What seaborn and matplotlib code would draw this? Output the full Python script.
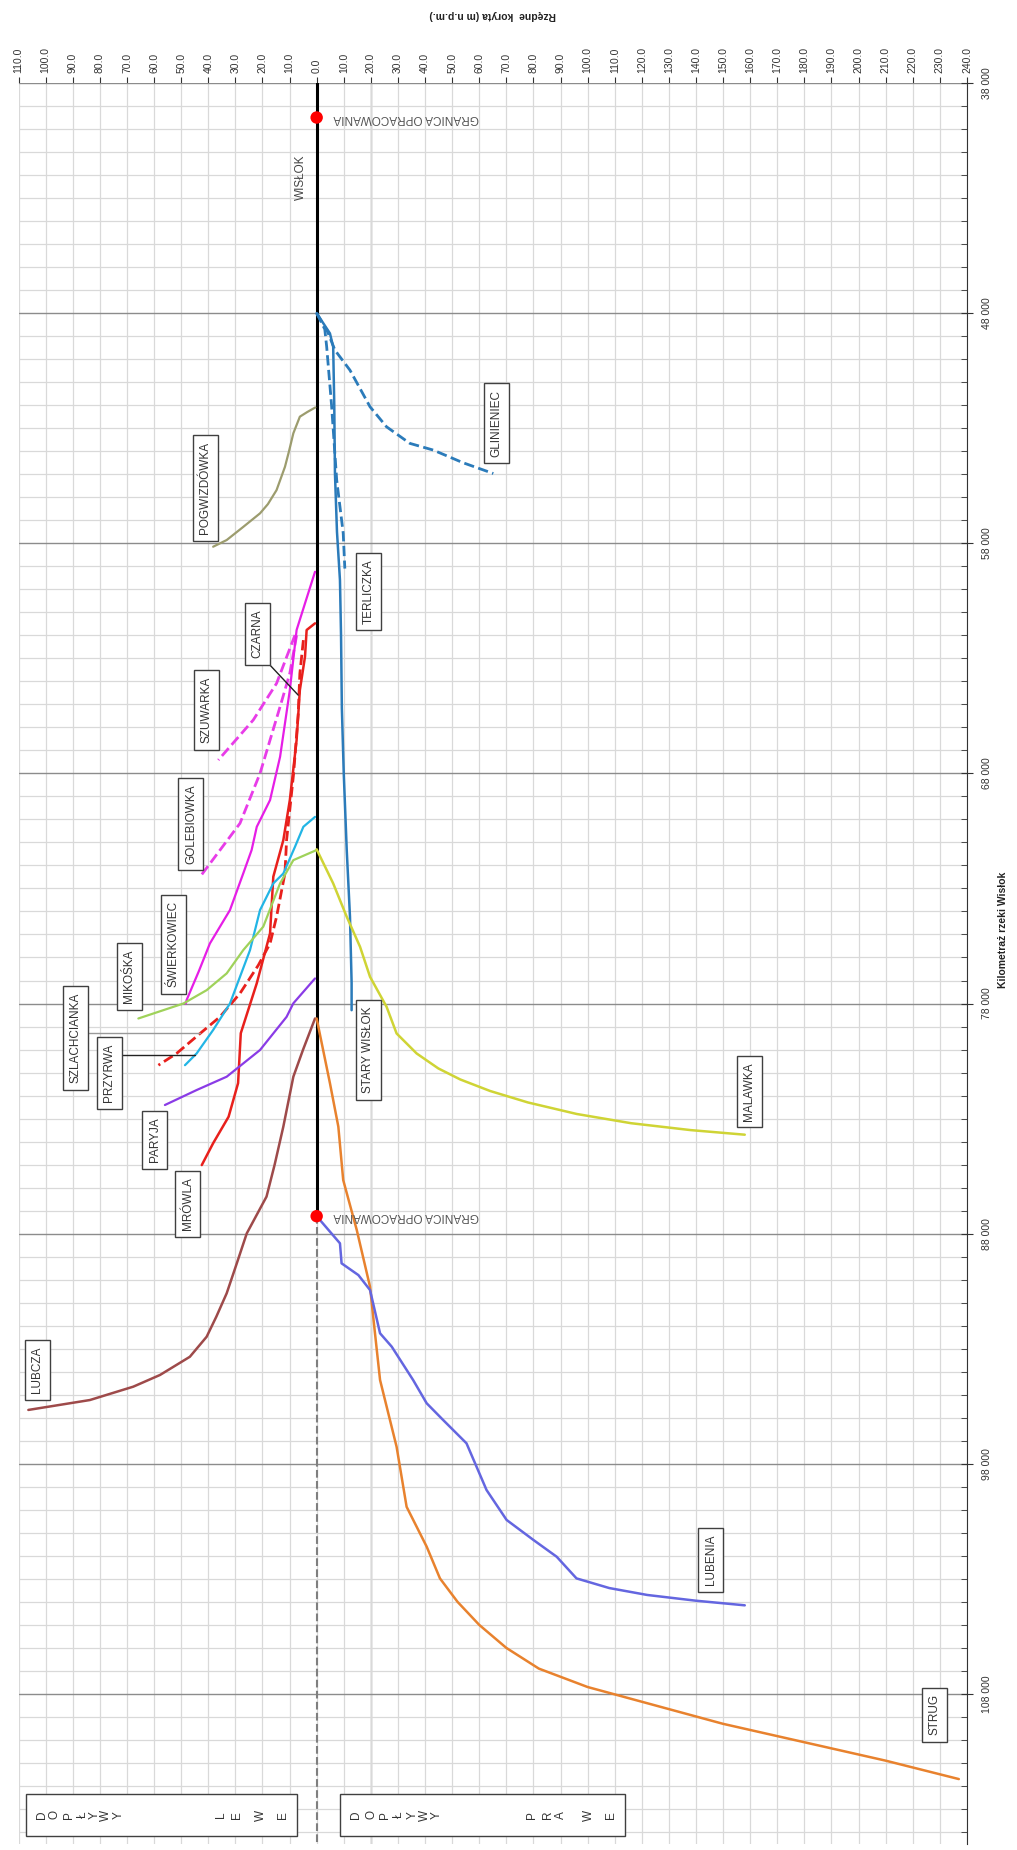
import matplotlib
matplotlib.use("Agg")
import matplotlib.pyplot as plt
import seaborn as sns
from matplotlib.patches import Rectangle
from matplotlib.ticker import FixedLocator, FuncFormatter, MultipleLocator

sns.set_style("white")
plt.rcParams['font.family'] = ['Liberation Sans', 'DejaVu Sans']

# ------------------------------------------------------
# Data: km of Wisłok (y) vs. channel level (x, left < 0)
# ------------------------------------------------------
wislok_km = [38000, 87240]
wislok_val = [0, 0]
wislok_dash_km = [87240, 114500]
wislok_dash_val = [0, 0]
granica_km = [39500, 87240]
granica_val = [0, 0]

stary_km = [48000, 48880, 49460, 52000, 54950, 57500, 59600, 62000, 65160, 68000, 71330, 74230, 77100, 78290]
stary_val = [0, 4.9, 6.1, 6.5, 6.75, 7.5, 8.6, 9.0, 9.3, 10.0, 11.1, 12.3, 12.9, 12.9]

terliczka_km = [48000, 48700, 49460, 52000, 55260, 57560, 59100]
terliczka_val = [0, 3.0, 3.7, 5.5, 7.4, 9.8, 10.4]

glinieniec_km = [48000, 48800, 49610, 50480, 52070, 52940, 53660, 53950, 54500, 54970]
glinieniec_val = [0, 4, 6.75, 12.3, 19.7, 25.8, 34.4, 43, 54, 65.2]

pogwizdowka_km = [52100, 52300, 52500, 53220, 54000, 54680, 55690, 56300, 56700, 57290, 57860, 58150]
pogwizdowka_val = [-0.5, -3.5, -6.2, -8.6, -10.2, -11.7, -14.8, -18.0, -20.9, -27.1, -33.2, -38.2]

swierkowiec_km = [59240, 60500, 61770, 64380, 67280, 69160, 70320, 71330, 72350, 73940, 75390, 76600, 77850, 78000]
swierkowiec_val = [-0.6, -4.0, -7.4, -9.9, -13.5, -17.2, -22.1, -24, -27.1, -32, -39.4, -43.5, -48, -48.3]

szuwarka_km = [61990, 64090, 65680, 67420]
szuwarka_val = [-8, -14.8, -23.4, -36.3]

golebiowka_km = [62000, 63650, 65100, 68000, 70170, 72490]
golebiowka_val = [-7.4, -9.9, -13.5, -20.9, -28.3, -43]

mrowla_km = [61480, 61770, 62930, 64380, 66550, 69160, 70900, 72490, 74950, 77120, 79290, 81460, 82920, 84070, 85020]
mrowla_val = [-0.6, -3.7, -4.3, -6.2, -7.4, -9.9, -12.3, -16, -17.2, -22.1, -28, -29, -32.5, -38.2, -42.4]

szlachcianka_km = [62210, 63660, 65400, 68000, 70900, 72340, 74230, 75390, 76330, 77560, 78580, 79300, 80170, 80680]
szlachcianka_val = [-4.9, -6.2, -6.8, -8.5, -11.1, -11.7, -14.8, -17.2, -21.5, -28.3, -35.7, -43, -51.7, -58.4]

przyrwa_km = [69890, 70320, 71190, 72350, 72780, 73940, 75680, 76840, 78000, 79150, 80170, 80680]
przyrwa_val = [-0.6, -4.9, -8, -12.3, -16, -20.9, -24.6, -28.3, -32, -38.2, -44.3, -48.6]

mikoska_km = [71330, 71770, 72780, 74660, 75680, 76690, 77420, 78000, 78650]
mikoska_val = [0, -8.6, -13.5, -19.7, -27.1, -33.2, -40.6, -49.2, -65.8]

paryja_km = [76910, 77990, 78580, 80020, 81180, 81760, 82410]
paryja_val = [-0.6, -8.6, -11.1, -20.9, -33.2, -44.3, -56]

lubcza_km = [78650, 80000, 81180, 83350, 85000, 86390, 87990, 89300, 90590, 91600, 92480, 93350, 94140, 94650, 95230, 95660]
lubcza_val = [-0.6, -5.0, -8.6, -12.3, -15.5, -18.5, -25.8, -29.5, -33.2, -37.0, -40.6, -46.8, -57.8, -67.7, -83.7, -106.4]

malawka_km = [71300, 72780, 74230, 75530, 76840, 78140, 79300, 80170, 80820, 81300, 81800, 82300, 82800, 83200, 83500, 83700]
malawka_val = [0, 6.1, 11.1, 16, 19.7, 25.8, 29.5, 36.9, 44.9, 53, 64, 78, 96, 116, 138, 158]

strug_km = [78650, 81460, 83350, 85670, 87840, 90310, 92300, 94360, 97260, 99870, 101600, 102980, 104000, 105000, 106000, 106900, 107700, 108500, 109300, 110100, 110900, 111700]
strug_val = [0, 4.9, 8, 9.8, 14.8, 19.7, 21.5, 23.4, 29.5, 33.2, 40.6, 45.5, 52, 60, 70, 82, 100, 125, 150, 180, 210, 237]

lubenia_km = [87240, 88420, 89290, 89800, 90450, 92330, 92910, 94360, 95370, 96100, 97110, 99140, 100440, 101310, 102040, 102980, 103400, 103700, 103950, 104150]
lubenia_val = [0, 8.6, 9.2, 15.4, 19.7, 23.4, 27.7, 35.6, 40.6, 46.7, 55.3, 62.7, 70.1, 80, 88.6, 95.9, 108, 122, 140, 158]

# label name, x, km
box_labels = [
    ("POGWIZDÓWKA", -41.2, 55600), ("TERLICZKA", 19.1, 60100), ("GLINIENIEC", 66.2, 52780),
    ("CZARNA", -21.8, 61950), ("SZUWARKA", -40.8, 65250), ("GOLEBIOWKA", -46.4, 70200),
    ("ŚWIERKOWIEC", -52.8, 75420), ("MIKOŚKA", -69.1, 76830), ("SZLACHCIANKA", -89, 79500),
    ("PRZYRWA", -76.5, 81020), ("PARYJA", -59.7, 83930), ("MRÓWLA", -47.5, 86710),
    ("LUBCZA", -103.2, 93930), ("STARY WISŁOK", 19.1, 80020), ("MALAWKA", 159.7, 81830),
    ("LUBENIA", 145.5, 102180), ("STRUG", 228, 108900),
]

# side boxes: letters and their x positions
lewe_letters = ["D", "O", "P", "Ł", "Y", "W", "Y", "L", "E", "W", "E"]
lewe_x = [-101.5, -96.6, -91.4, -86.2, -81.8, -77.8, -73.1, -35.3, -29.4, -20.5, -12.4]
prawe_letters = ["D", "O", "P", "Ł", "Y", "W", "Y", "P", "R", "A", "W", "E"]
prawe_x = [14.5, 20.4, 25.4, 30.4, 35.5, 40.0, 44.4, 79.4, 85.3, 90.3, 100.5, 108.6]

# ------------------------------------------------------
# Figure
# ------------------------------------------------------
fig = plt.figure(figsize=(10.17, 18.5), dpi=100)
ax = fig.add_axes([0.01829, 0.00351, 0.9325, 0.95163])

lines = [
    (wislok_val, wislok_km, "black", "-", 2.2),
    (wislok_dash_val, wislok_dash_km, "#7f7f7f", "--", 1.5),
    (glinieniec_val, glinieniec_km, "#2b7bba", "--", 2.0),
    (terliczka_val, terliczka_km, "#2b7bba", "--", 2.0),
    (stary_val, stary_km, "#2b7bba", "-", 1.8),
    (pogwizdowka_val, pogwizdowka_km, "#9c9c6e", "-", 1.6),
    (szuwarka_val, szuwarka_km, "#e83ce8", "--", 2.0),
    (golebiowka_val, golebiowka_km, "#e83ce8", "--", 2.0),
    (swierkowiec_val, swierkowiec_km, "#e61ee6", "-", 1.6),
    (mrowla_val, mrowla_km, "#e8201c", "-", 1.8),
    (szlachcianka_val, szlachcianka_km, "#e8201c", "--", 2.0),
    (przyrwa_val, przyrwa_km, "#22b5e5", "-", 1.6),
    (mikoska_val, mikoska_km, "#9fd25a", "-", 1.6),
    (paryja_val, paryja_km, "#8a3be6", "-", 1.6),
    (lubcza_val, lubcza_km, "#9e4a4a", "-", 1.8),
    (malawka_val, malawka_km, "#cfd435", "-", 1.8),
    (strug_val, strug_km, "#e8822e", "-", 1.8),
    (lubenia_val, lubenia_km, "#6466e0", "-", 1.8),
]
for xv, yv, col, ls, lw in lines:
    sns.lineplot(x=xv, y=yv, sort=False, estimator=None, color=col,
                 linestyle=ls, linewidth=lw, ax=ax)

sns.scatterplot(x=granica_val, y=granica_km, color="#ff0000", s=80,
                edgecolor="none", zorder=5, ax=ax)
for km in granica_km:
    ax.text(6, km, "GRANICA OPRACOWANIA", rotation=180, ha="left", va="center",
            fontsize=8.5, color="#555555")
ax.text(-5.8, 42090, "WISŁOK", rotation=90, ha="center", va="center",
        fontsize=8.5, color="#444444")

for name, xv, km in box_labels:
    ax.text(xv, km, name, rotation=90, ha="center", va="center", fontsize=8.5,
            color="#333333", zorder=6,
            bbox=dict(boxstyle="square,pad=0.55", fc="white", ec="#404040", lw=1))

# leader lines
ax.plot([-17.9, -6.8], [63210, 64600], color="#222222", lw=1)
ax.plot([-84.7, -43], [79290, 79290], color="#999999", lw=1)
ax.plot([-72.2, -44.9], [80240, 80240], color="#222222", lw=1)

# DOPŁYWY boxes
ax.add_patch(Rectangle((-107.3, 112350), 100, 1820, fc="white", ec="#404040", lw=1, zorder=6))
ax.add_patch(Rectangle((8.6, 112350), 105.2, 1820, fc="white", ec="#404040", lw=1, zorder=6))
for letter, xv in zip(lewe_letters + prawe_letters, lewe_x + prawe_x):
    ax.text(xv, 113260, letter, rotation=90, rotation_mode="anchor",
            ha="center", va="center", fontsize=8.5, color="#333333", zorder=7)

# axes
ax.set_xlim(-110, 240)
ax.set_ylim(114500, 38000)
ax.xaxis.tick_top()
ax.yaxis.tick_right()
ax.set_xticks(range(-110, 241, 10))
ax.xaxis.set_major_formatter(FuncFormatter(lambda v, p: f"{abs(v):.1f}"))
ax.yaxis.set_major_locator(FixedLocator(range(38000, 114001, 10000)))
ax.yaxis.set_minor_locator(MultipleLocator(1000))
ax.yaxis.set_major_formatter(FuncFormatter(lambda v, p: f"{int(v):,}".replace(",", " ")))
ax.tick_params(axis="x", which="major", direction="out", length=4, labelsize=7.5,
               labelrotation=90, colors="#333333", pad=3)
ax.tick_params(axis="y", which="major", direction="inout", length=9, labelsize=7.5,
               labelrotation=90, colors="#333333", pad=6)
ax.tick_params(axis="y", which="minor", direction="in", length=4, color="#333333")
for lab in ax.get_yticklabels():
    lab.set_va("center")

ax.grid(True, axis="x", color="#d9d9d9", lw=0.9)
ax.grid(True, axis="y", which="minor", color="#d9d9d9", lw=0.9)
ax.grid(True, axis="y", which="major", color="#8c8c8c", lw=1.0)
ax.axvline(20, color="#999999", lw=1.0, zorder=0.5)
ax.set_axisbelow(True)
for side in ["top", "left", "bottom"]:
    ax.spines[side].set_visible(False)
ax.spines["right"].set_color("#333333")
ax.set_xlabel("")
ax.set_ylabel("")

fig.text(493 / 1017, 1 - 15 / 1850, "Rzędne  koryta (m n.p.m.)", rotation=180,
         ha="center", va="center", fontsize=7.5, fontweight="bold", color="#222222")
fig.text(1003 / 1017, 1 - 930 / 1850, "Kilometraż rzeki Wisłok", rotation=90,
         ha="center", va="center", fontsize=7.5, fontweight="bold", color="#222222")

fig.savefig("out.png", dpi=100)
